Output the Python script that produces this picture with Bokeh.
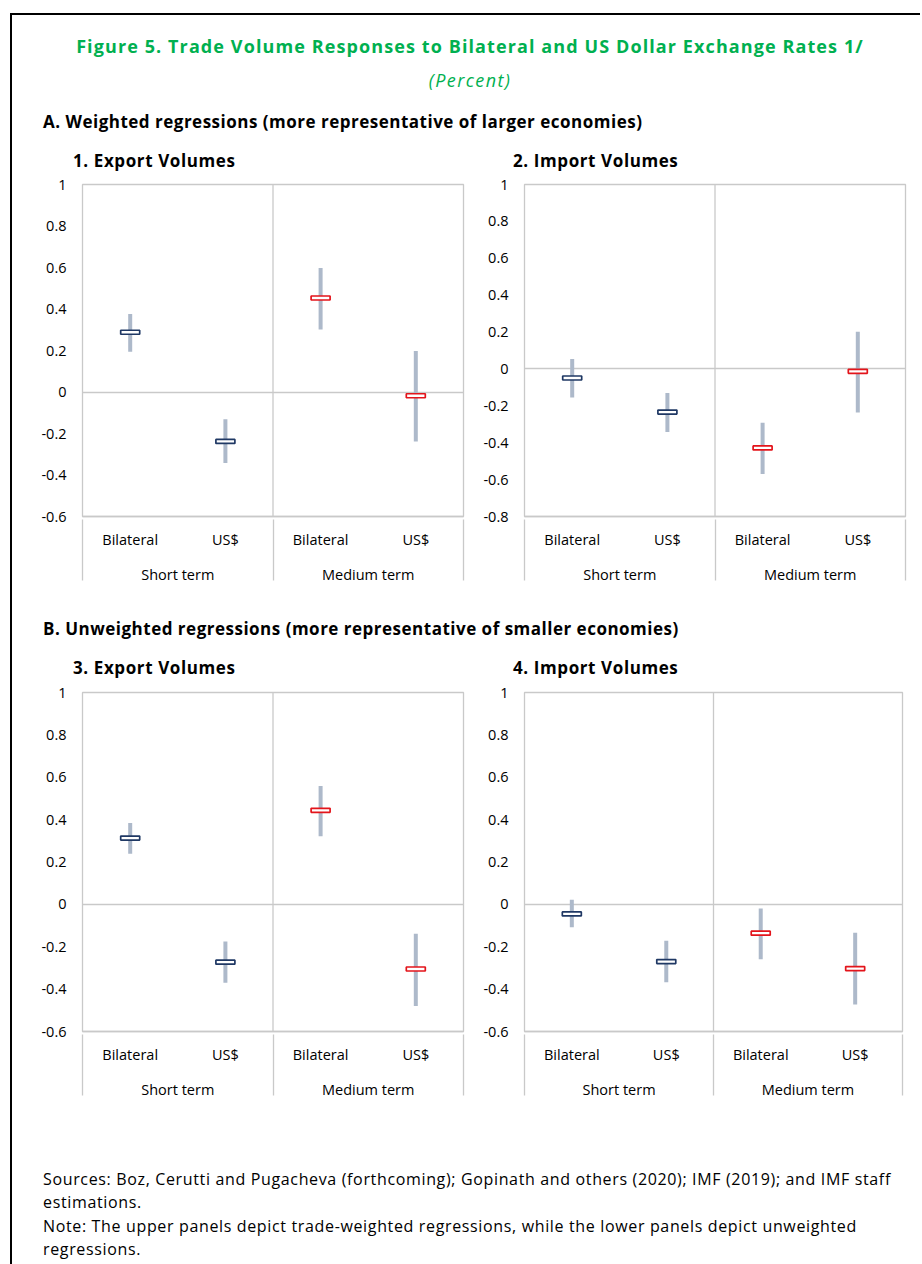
from bokeh.plotting import figure
from bokeh.models import FactorRange, Range1d, FixedTicker, Span, ColumnDataSource, Div
from bokeh.layouts import row, column
from bokeh.embed import file_html
from bokeh.resources import INLINE

FONT = "Open Sans"
GREEN = "#00B050"
GRID = "#C9C9C9"
BAR = "#ADB9CA"
NAVY = "#1F3864"
RED = "#E3141B"

# ---------------- data ----------------
groups = ["Short term", "Medium term"]
measures = ["Bilateral", "US$"]
group_colors = [NAVY, RED]

# order: Short/Bilateral, Short/US$, Medium/Bilateral, Medium/US$
p1_est = [0.288, -0.238, 0.453, -0.018]
p1_lo = [0.194, -0.342, 0.301, -0.238]
p1_hi = [0.376, -0.131, 0.597, 0.197]

p2_est = [-0.049, -0.234, -0.428, -0.013]
p2_lo = [-0.155, -0.342, -0.570, -0.236]
p2_hi = [0.054, -0.131, -0.292, 0.201]

p3_est = [0.313, -0.273, 0.444, -0.305]
p3_lo = [0.239, -0.370, 0.322, -0.480]
p3_hi = [0.384, -0.175, 0.559, -0.139]

p4_est = [-0.045, -0.270, -0.136, -0.303]
p4_lo = [-0.108, -0.367, -0.259, -0.473]
p4_hi = [0.022, -0.172, -0.020, -0.134]

yticks_06 = [-0.6, -0.4, -0.2, 0, 0.2, 0.4, 0.6, 0.8, 1]
ylabels_06 = ["-0.6", "-0.4", "-0.2", "0", "0.2", "0.4", "0.6", "0.8", "1"]
yticks_08 = [-0.8, -0.6, -0.4, -0.2, 0, 0.2, 0.4, 0.6, 0.8, 1]
ylabels_08 = ["-0.8", "-0.6", "-0.4", "-0.2", "0", "0.2", "0.4", "0.6", "0.8", "1"]

title_text = "Figure 5. Trade Volume Responses to Bilateral and US Dollar Exchange Rates 1/"
subtitle_text = "(Percent)"
section_a = "A. Weighted regressions (more representative of larger economies)"
section_b = "B. Unweighted regressions (more representative of smaller economies)"
panel_titles = ["1. Export Volumes", "2. Import Volumes", "3. Export Volumes", "4. Import Volumes"]
footer_lines = [
    "Sources: Boz, Cerutti and Pugacheva (forthcoming); Gopinath and others (2020); IMF (2019); and IMF staff",
    "estimations.",
    "Note: The upper panels depict trade-weighted regressions, while the lower panels depict unweighted",
    "regressions.",
]


def panel(est, lo, hi, yticks, ylabels, width, height, mbl, mbr, mbt, mbb):
    factors = [(g, m) for g in groups for m in measures]
    colors = [group_colors[i] for i, g in enumerate(groups) for m in measures]
    pad_l = (" ", "")
    pad_r = ("  ", "")
    xr = FactorRange(factors=[pad_l] + factors + [pad_r], factor_padding=0,
                     group_padding=0, subgroup_padding=0,
                     range_padding=-0.333, range_padding_units="percent")
    p = figure(x_range=xr, y_range=Range1d(min(yticks), max(yticks)),
               width=width, height=height, output_backend="svg",
               toolbar_location=None, min_border_left=mbl, min_border_right=mbr,
               min_border_top=mbt, min_border_bottom=mbb)
    p.outline_line_color = GRID
    p.outline_line_width = 1.3
    p.background_fill_color = "white"
    p.border_fill_color = "white"
    p.xgrid.visible = False
    p.ygrid.ticker = FixedTicker(ticks=[0])
    p.ygrid.grid_line_color = GRID
    p.ygrid.grid_line_width = 1.3

    ya = p.yaxis[0]
    ya.ticker = FixedTicker(ticks=yticks)
    ya.major_label_overrides = {t: l for t, l in zip(yticks, ylabels)}
    ya.axis_line_color = None
    ya.major_tick_line_color = None
    ya.minor_tick_line_color = None
    ya.major_tick_out = 0
    ya.major_tick_in = 0
    ya.minor_tick_out = 0
    ya.major_label_standoff = 16
    ya.major_label_text_font = FONT
    ya.major_label_text_font_size = "14.5px"
    ya.major_label_text_color = "black"

    xa = p.xaxis[0]
    xa.axis_line_color = GRID
    xa.axis_line_width = 1.3
    xa.major_tick_line_color = None
    xa.minor_tick_line_color = None
    xa.major_tick_out = 0
    xa.major_tick_in = 0
    xa.minor_tick_out = 0
    xa.major_label_standoff = 13
    xa.major_label_text_font = FONT
    xa.major_label_text_font_size = "14.5px"
    xa.major_label_text_color = "black"
    xa.group_text_font = FONT
    xa.group_text_font_size = "14.5px"
    xa.group_text_font_style = "normal"
    xa.group_text_color = "black"
    xa.separator_line_color = GRID
    xa.separator_line_width = 1.3

    boundary = 1 + len(measures)
    p.add_layout(Span(location=boundary, dimension="height", line_color=GRID, line_width=1.3))

    src = ColumnDataSource(dict(x=factors, est=est, lo=lo, hi=hi, color=colors))
    p.segment(x0="x", y0="lo", x1="x", y1="hi", source=src, line_width=4, line_color=BAR)
    p.rect(x="x", y="est", width=19, height=4, width_units="screen", height_units="screen",
           fill_color="white", line_color="color", line_width=1.7, source=src)
    return p


f1 = panel(p1_est, p1_lo, p1_hi, yticks_06, ylabels_06, 468, 425, 70, 17, 8, 84)
f2 = panel(p2_est, p2_lo, p2_hi, yticks_08, ylabels_08, 434, 425, 42, 9, 9, 82)
f3 = panel(p3_est, p3_lo, p3_hi, yticks_06, ylabels_06, 468, 432, 70, 17, 7, 84)
f4 = panel(p4_est, p4_lo, p4_hi, yticks_06, ylabels_06, 434, 432, 42, 12, 9, 82)


def box(text, left, top, size, h=24, weight="normal", style="normal", color="black",
        width=None, align="left", ls=0.0):
    w = f"width:{width}px;" if width else ""
    return (f'<div style="position:absolute;left:{left}px;top:{top}px;{w}height:{h}px;'
            f'line-height:{h}px;font-family:\'{FONT}\';font-size:{size}px;font-weight:{weight};'
            f'font-style:{style};color:{color};text-align:{align};white-space:nowrap;'
            f'letter-spacing:{ls}px;">{text}</div>')


def canvas(inner, w, h):
    return f'<div style="position:relative;width:{w}px;height:{h}px;overflow:visible;">{inner}</div>'


header_html = canvas(
    box(title_text, 8, 19, 18, weight="bold", color=GREEN, width=900, align="center", ls=1.1)
    + box(subtitle_text, 8, 53, 18, style="italic", color=GREEN, width=900, align="center", ls=1.4)
    + box(section_a, 31, 95, 17, weight="bold", ls=0.5)
    + box(panel_titles[0], 61, 134, 17, weight="bold", ls=0.6)
    + box(panel_titles[1], 501, 134, 17, weight="bold", ls=0.6),
    902, 160)
header = Div(text=header_html, width=902, height=160, margin=0)

mid_html = canvas(
    box(section_b, 31, 17, 17, weight="bold", ls=0.5)
    + box(panel_titles[2], 61, 56, 17, weight="bold", ls=0.6)
    + box(panel_titles[3], 501, 56, 17, weight="bold", ls=0.6),
    902, 83)
mid = Div(text=mid_html, width=902, height=83, margin=0)

foot_tops = [56, 79, 103, 126]
foot_html = canvas("".join(box(t, 31, y, 16, h=16, ls=0.65) for t, y in zip(footer_lines, foot_tops)),
                   902, 141)
footer = Div(text=foot_html, width=902, height=141, margin=0)


def blank(w, h):
    return Div(text="", width=w, height=h, margin=0)


def bar(w, h):
    return Div(text="", width=w, height=h, margin=0,
               styles={"background-color": "#000000"})


main = column(blank(908, 13), bar(908, 2), header, row(f1, f2), mid, row(f3, f4), footer)
left = column(blank(2, 13), bar(2, 1251))
layout = row(blank(10, 1264), left, main)

open("out.html", "w").write(file_html(layout, INLINE))
